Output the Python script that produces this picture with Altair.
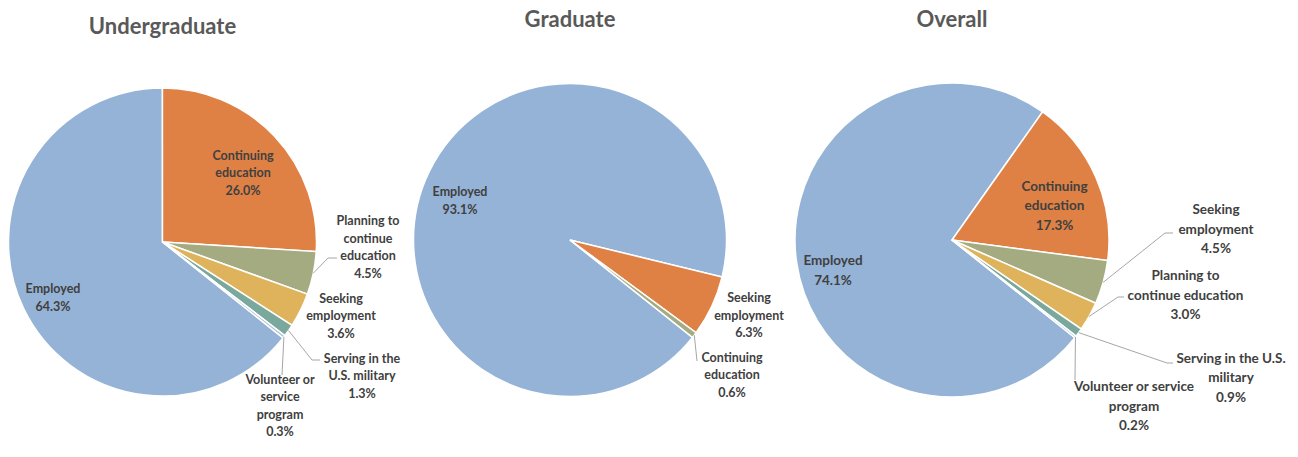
import math
import altair as alt
import pandas as pd

# ---------------- data ----------------
ug_categories = ["Employed", "Continuing education", "Planning to continue education",
                 "Seeking employment", "Serving in the U.S. military", "Volunteer or service program"]
ug_values = [64.3, 26.0, 4.5, 3.6, 1.3, 0.3]

grad_categories = ["Employed", "Seeking employment", "Continuing education"]
grad_values = [93.1, 6.3, 0.6]

all_categories = ["Employed", "Continuing education", "Seeking employment",
                  "Planning to continue education", "Serving in the U.S. military",
                  "Volunteer or service program"]
all_values = [74.1, 17.3, 4.5, 3.0, 0.9, 0.2]

titles = ["Undergraduate", "Graduate", "Overall"]

# ---------------- styling / layout ----------------
slice_colors = ["#95B3D6", "#DF8045", "#A5AB80", "#DFB35C", "#7AA89C", "#A9BDD2"]
TEXT = "#404040"
TITLE = "#595959"
LEADER = "#A6A6A6"
FONT = "Lato"
START = math.radians(128.5)          # angle of first slice (clockwise from 12 o'clock)

# how each label text is wrapped (per pie)
wraps = {
    "Undergraduate": {
        "Employed": "Employed",
        "Continuing education": "Continuing\neducation",
        "Planning to continue education": "Planning to\ncontinue\neducation",
        "Seeking employment": "Seeking\nemployment",
        "Serving in the U.S. military": "Serving in the\nU.S. military",
        "Volunteer or service program": "Volunteer or\nservice\nprogram",
    },
    "Graduate": {
        "Employed": "Employed",
        "Seeking employment": "Seeking\nemployment",
        "Continuing education": "Continuing\neducation",
    },
    "Overall": {
        "Employed": "Employed",
        "Continuing education": "Continuing\neducation",
        "Seeking employment": "Seeking\nemployment",
        "Planning to continue education": "Planning to\ncontinue education",
        "Serving in the U.S. military": "Serving in the U.S.\nmilitary",
        "Volunteer or service program": "Volunteer or service\nprogram",
    },
}

# pie placement: center, radius, label font size, line height, title baseline
pie_layout = {
    "Undergraduate": dict(cx=154.5, cy=234, r=154, fs=12.5, lh=17.5, ty=26),
    "Graduate": dict(cx=562, cy=232, r=156.5, fs=12.5, lh=17.5, ty=19),
    "Overall": dict(cx=944, cy=232, r=157, fs=13.5, lh=19.5, ty=19),
}

# label block-center offsets from the pie center, and leader elbow / end offsets
label_layout = {
    "Undergraduate": {
        "Employed": ((-109.5, 56), None, None),
        "Continuing education": ((80.5, -69), None, None),
        "Planning to continue education": ((205.5, 5.5), (165.5, 16), (174.5, 16)),
        "Seeking employment": ((178.5, 74), None, None),
        "Serving in the U.S. military": ((199.5, 134), (149.5, 118), (157.5, 118)),
        "Volunteer or service program": ((117.5, 164), (119.5, 133), (119.5, 133)),
    },
    "Graduate": {
        "Employed": ((-110, -39), None, None),
        "Seeking employment": ((179, 75.5), None, None),
        "Continuing education": ((162, 135), (127, 121), (127, 121)),
    },
    "Overall": {
        "Employed": ((-119, 31), None, None),
        "Continuing education": ((102.5, -34), None, None),
        "Seeking employment": ((264, -10.5), (213, -7), (221, -7)),
        "Planning to continue education": ((233.5, 55.5), (166, 57), (172, 57)),
        "Serving in the U.S. military": ((279, 138), (215, 123), (221, 123)),
        "Volunteer or service program": ((182, 166.5), (123, 140), (123, 140)),
    },
}

series = {
    "Undergraduate": (ug_categories, ug_values),
    "Graduate": (grad_categories, grad_values),
    "Overall": (all_categories, all_values),
}

theta_scale = alt.Scale(domain=[0, 100], range=[START, START + 2 * math.pi])
color_scale = alt.Scale(domain=list(range(1, 7)), range=slice_colors)

layers = []
for name in titles:
    cats, vals = series[name]
    L = pie_layout[name]
    rows = []
    for i, (c, v) in enumerate(zip(cats, vals)):
        (dx, dy), p1, p2 = label_layout[name][c]
        label = wraps[name][c] + "\n" + f"{v:.1f}%"
        n_lines = label.count("\n") + 1
        rows.append(dict(
            category=c, value=v, rank=i + 1, label=label,
            lx=L["cx"] + dx,
            # Vega anchors the first line: shift so the whole block is centred
            ly=L["cy"] + dy - (n_lines - 1) * L["lh"] / 2,
            has_leader=p1 is not None,
            x1=L["cx"] + (p1[0] if p1 else 0), y1=L["cy"] + (p1[1] if p1 else 0),
            x2=L["cx"] + (p2[0] if p2 else 0), y2=L["cy"] + (p2[1] if p2 else 0),
        ))
    df = pd.DataFrame(rows)
    base = alt.Chart(df)

    arcs = base.mark_arc(outerRadius=L["r"], stroke="white", strokeWidth=1.5).encode(
        theta=alt.Theta("value:Q", stack=True, scale=theta_scale),
        order=alt.Order("rank:Q"),
        color=alt.Color("rank:O", scale=color_scale, legend=None),
        x=alt.value(L["cx"]),
        y=alt.value(L["cy"]),
    )

    total = sum(vals)
    mid_expr = f"{START} + 2*PI*(datum.cum - datum.value/2)/{total}"
    leaders = base.transform_window(
        cum="sum(value)", sort=[alt.SortField("rank")]
    ).transform_filter("datum.has_leader").transform_calculate(
        mid=mid_expr
    ).transform_calculate(
        x0=f"{L['cx']} + {L['r']}*sin(datum.mid)",
        y0=f"{L['cy']} - {L['r']}*cos(datum.mid)",
    )
    seg1 = leaders.mark_rule(color=LEADER, strokeWidth=1).encode(
        x=alt.X("x0:Q", scale=None), y=alt.Y("y0:Q", scale=None),
        x2="x1:Q", y2="y1:Q",
    )
    seg2 = leaders.mark_rule(color=LEADER, strokeWidth=1).encode(
        x=alt.X("x1:Q", scale=None), y=alt.Y("y1:Q", scale=None),
        x2="x2:Q", y2="y2:Q",
    )

    labels = base.mark_text(
        align="center", baseline="middle", lineBreak="\n", font=FONT,
        fontWeight="bold", fontSize=L["fs"], lineHeight=L["lh"], color=TEXT,
    ).encode(
        x=alt.X("lx:Q", scale=None), y=alt.Y("ly:Q", scale=None), text="label:N",
    )

    title = alt.Chart(pd.DataFrame({"t": [name]})).mark_text(
        align="center", baseline="alphabetic", font=FONT, fontWeight="bold",
        fontSize=22, color=TITLE,
    ).encode(x=alt.value(L["cx"]), y=alt.value(L["ty"]), text="t:N")

    layers += [arcs, seg1, seg2, labels, title]

chart = alt.layer(*layers).properties(
    width=1282, height=437, padding=0,
    autosize=alt.AutoSizeParams(type="none"),
).configure_view(stroke=None)

chart.save("out.html", embed_options={"renderer": "svg", "actions": False})
